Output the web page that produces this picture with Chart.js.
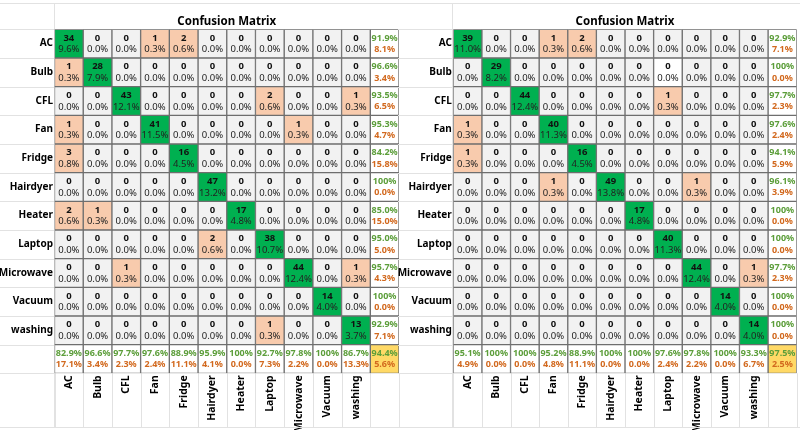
<!DOCTYPE html>
<html>
<head>
<meta charset="utf-8">
<script src="https://cdn.jsdelivr.net/npm/chart.js@4.4.1/dist/chart.umd.min.js"></script>
<style>
  html, body { margin: 0; padding: 0; background: #fff; }
  #wrap { position: relative; width: 800px; height: 430px; }
  .pane { position: absolute; top: 0; height: 430px; }
</style>
</head>
<body>
<div id="wrap">
  <div class="pane" style="left:0;width:400px"><canvas id="cmLeft" width="400" height="430"></canvas></div>
  <div class="pane" style="left:398px;width:402px"><canvas id="cmRight" width="402" height="430"></canvas></div>
</div>
<script>
// Classi (righe e colonne della matrice)
const categorie = ['AC', 'Bulb', 'CFL', 'Fan', 'Fridge', 'Hairdyer', 'Heater', 'Laptop', 'Microwave', 'Vacuum', 'washing'];

// Matrice sinistra
const countsLeft = [
  [34, 0, 0, 1, 2, 0, 0, 0, 0, 0, 0],
  [1, 28, 0, 0, 0, 0, 0, 0, 0, 0, 0],
  [0, 0, 43, 0, 0, 0, 0, 2, 0, 0, 1],
  [1, 0, 0, 41, 0, 0, 0, 0, 1, 0, 0],
  [3, 0, 0, 0, 16, 0, 0, 0, 0, 0, 0],
  [0, 0, 0, 0, 0, 47, 0, 0, 0, 0, 0],
  [2, 1, 0, 0, 0, 0, 17, 0, 0, 0, 0],
  [0, 0, 0, 0, 0, 2, 0, 38, 0, 0, 0],
  [0, 0, 1, 0, 0, 0, 0, 0, 44, 0, 1],
  [0, 0, 0, 0, 0, 0, 0, 0, 0, 14, 0],
  [0, 0, 0, 0, 0, 0, 0, 1, 0, 0, 13]
];
const diagPctLeft = [9.6, 7.9, 12.1, 11.5, 4.5, 13.2, 4.8, 10.7, 12.4, 4.0, 3.7];
const rowOkLeft = [91.9, 96.6, 93.5, 95.3, 84.2, 100, 85.0, 95.0, 95.7, 100, 92.9];
const rowErrLeft = [8.1, 3.4, 6.5, 4.7, 15.8, 0.0, 15.0, 5.0, 4.3, 0.0, 7.1];
const colOkLeft = [82.9, 96.6, 97.7, 97.6, 88.9, 95.9, 100, 92.7, 97.8, 100, 86.7];
const colErrLeft = [17.1, 3.4, 2.3, 2.4, 11.1, 4.1, 0.0, 7.3, 2.2, 0.0, 13.3];
const totaleLeft = [94.4, 5.6];

// Matrice destra
const countsRight = [
  [39, 0, 0, 1, 2, 0, 0, 0, 0, 0, 0],
  [0, 29, 0, 0, 0, 0, 0, 0, 0, 0, 0],
  [0, 0, 44, 0, 0, 0, 0, 1, 0, 0, 0],
  [1, 0, 0, 40, 0, 0, 0, 0, 0, 0, 0],
  [1, 0, 0, 0, 16, 0, 0, 0, 0, 0, 0],
  [0, 0, 0, 1, 0, 49, 0, 0, 1, 0, 0],
  [0, 0, 0, 0, 0, 0, 17, 0, 0, 0, 0],
  [0, 0, 0, 0, 0, 0, 0, 40, 0, 0, 0],
  [0, 0, 0, 0, 0, 0, 0, 0, 44, 0, 1],
  [0, 0, 0, 0, 0, 0, 0, 0, 0, 14, 0],
  [0, 0, 0, 0, 0, 0, 0, 0, 0, 0, 14]
];
const diagPctRight = [11.0, 8.2, 12.4, 11.3, 4.5, 13.8, 4.8, 11.3, 12.4, 4.0, 4.0];
const rowOkRight = [92.9, 100, 97.7, 97.6, 94.1, 96.1, 100, 100, 97.7, 100, 100];
const rowErrRight = [7.1, 0.0, 2.3, 2.4, 5.9, 3.9, 0.0, 0.0, 2.3, 0.0, 0.0];
const colOkRight = [95.1, 100, 100, 95.2, 88.9, 100, 100, 97.6, 97.8, 100, 93.3];
const colErrRight = [4.9, 0.0, 0.0, 4.8, 11.1, 0.0, 0.0, 2.4, 2.2, 0.0, 6.7];
const totaleRight = [97.5, 2.5];
const celleBiancheRight = [[1, 7]]; // cella senza riempimento

const FONT = '"Noto Sans", "Open Sans", sans-serif';
const VERDE = '#00B050';
const PESCA = '#F8CBAD';
const GRIGIO = '#F2F2F2';
const GIALLO = '#FFD966';
const TESTO_OK = '#5C9E3A';
const TESTO_ERR = '#D2691E';

function fmt(v) {
  return v === 100 ? '100%' : v.toFixed(1) + '%';
}

// Griglia del foglio di calcolo
const foglioPlugin = {
  id: 'foglio',
  beforeDatasetsDraw(chart) {
    const { ctx, chartArea: a, scales: { x } } = chart;
    const W = chart.width;
    const n = categorie.length + 1;
    const h = (a.bottom - a.top) / n;
    ctx.save();
    ctx.strokeStyle = '#E2E2E2';
    ctx.lineWidth = 1;
    ctx.beginPath();
    ctx.moveTo(0, 3.5); ctx.lineTo(W, 3.5);
    ctx.moveTo(0, 427.5); ctx.lineTo(W, 427.5);
    ctx.moveTo(Math.round(a.left) - 0.5, 3); ctx.lineTo(Math.round(a.left) - 0.5, 428);
    for (let i = 0; i <= n; i++) {
      const yy = Math.round(a.top + i * h) + 0.5;
      ctx.moveTo(0, yy); ctx.lineTo(a.left, yy);
    }
    for (let j = 0; j <= n; j++) {
      const xx = Math.round(x.getPixelForValue(j)) + 0.5;
      ctx.moveTo(xx, a.bottom); ctx.lineTo(xx, 428);
    }
    ctx.stroke();
    ctx.restore();
  }
};

// Testi nelle celle + titolo
function testoPlugin(counts, diagPct, rowOk, rowErr, colOk, colErr, totale) {
  const totale_n = counts.flat().reduce((s, v) => s + v, 0);
  return {
    id: 'testo',
    afterDatasetsDraw(chart) {
      const { ctx, chartArea: a, scales: { x, y } } = chart;
      const n = categorie.length;
      ctx.save();
      ctx.textAlign = 'center';
      ctx.textBaseline = 'middle';
      for (let i = 0; i <= n; i++) {
        for (let j = 0; j <= n; j++) {
          const cx = x.getPixelForValue(j + 0.5);
          const cy = y.getPixelForValue(i);
          if (i < n && j < n) {
            const c = counts[i][j];
            const pct = i === j ? diagPct[i] : c / totale_n * 100;
            ctx.fillStyle = '#111';
            ctx.font = 'bold 9.5px ' + FONT;
            ctx.fillText(String(c), cx, cy - 5.8);
            ctx.fillStyle = '#222';
            ctx.font = '9.5px ' + FONT;
            ctx.fillText(pct.toFixed(1) + '%', cx, cy + 6);
          } else {
            let ok, err;
            if (i === n && j === n) { ok = totale[0]; err = totale[1]; }
            else if (j === n) { ok = rowOk[i]; err = rowErr[i]; }
            else { ok = colOk[j]; err = colErr[j]; }
            ctx.font = 'bold 9px ' + FONT;
            ctx.fillStyle = TESTO_OK;
            ctx.fillText(fmt(ok), cx, cy - 5.5);
            ctx.fillStyle = TESTO_ERR;
            ctx.fillText(fmt(err), cx, cy + 5.8);
          }
        }
      }
      ctx.font = 'bold 11.5px ' + FONT;
      ctx.fillStyle = '#000';
      ctx.fillText('Confusion Matrix', (a.left + a.right) / 2, 21.5);
      ctx.restore();
    }
  };
}

function creaMatrice(canvasId, counts, diagPct, rowOk, rowErr, colOk, colErr, totale, celleBianche, larghezzaEtichette, padDestra) {
  const n = categorie.length;
  const etichette = categorie.concat(['']);

  function coloreCella(i, j) {
    if (i === n && j === n) return GIALLO;
    if (i === n || j === n) return '#FFFFFF';
    if (celleBianche.some(c => c[0] === i && c[1] === j)) return '#FFFFFF';
    if (i === j) return VERDE;
    return counts[i][j] > 0 ? PESCA : GRIGIO;
  }

  const datasets = [];
  for (let j = 0; j <= n; j++) {
    const data = [];
    const colori = [];
    for (let i = 0; i <= n; i++) {
      data.push([j, j + 1]);
      colori.push(coloreCella(i, j));
    }
    datasets.push({
      data: data,
      backgroundColor: colori,
      borderColor: '#6e6e6e',
      borderWidth: 1,
      borderSkipped: false,
      grouped: false,
      barPercentage: 1,
      categoryPercentage: 1
    });
  }

  const ctx = document.getElementById(canvasId).getContext('2d');
  new Chart(ctx, {
    type: 'bar',
    data: { labels: etichette, datasets: datasets },
    options: {
      indexAxis: 'y',
      responsive: false,
      animation: false,
      events: [],
      layout: { padding: { top: 29.3, right: padDestra, bottom: 0, left: 0 } },
      plugins: { legend: { display: false }, tooltip: { enabled: false } },
      scales: {
        x: { type: 'linear', min: 0, max: n + 1, display: false },
        y: {
          type: 'category',
          offset: true,
          grid: { display: false, drawTicks: false },
          border: { display: false },
          ticks: { color: '#000', padding: 1.5, font: { family: FONT, size: 10, weight: 'bold' } },
          afterFit(scale) {
            scale.width = larghezzaEtichette;
            scale.paddingTop = 0; scale.paddingBottom = 0;
          }
        },
        xLabels: {
          type: 'category',
          position: 'bottom',
          labels: etichette,
          offset: true,
          grid: { display: false, drawTicks: false },
          border: { display: false },
          ticks: {
            color: '#000', padding: 2, autoSkip: false, minRotation: 90, maxRotation: 90,
            font: { family: FONT, size: 10.5, weight: 'bold' }
          },
          afterFit(scale) {
            scale.height = 56.7;
            scale.paddingLeft = 0; scale.paddingRight = 0;
          }
        }
      }
    },
    plugins: [foglioPlugin, testoPlugin(counts, diagPct, rowOk, rowErr, colOk, colErr, totale)]
  });
}

creaMatrice('cmLeft', countsLeft, diagPctLeft, rowOkLeft, rowErrLeft, colOkLeft, colErrLeft, totaleLeft, [], 54.5, 1);
creaMatrice('cmRight', countsRight, diagPctRight, rowOkRight, rowErrRight, colOkRight, colErrRight, totaleRight, celleBiancheRight, 55.3, 3.3);
</script>
</body>
</html>
